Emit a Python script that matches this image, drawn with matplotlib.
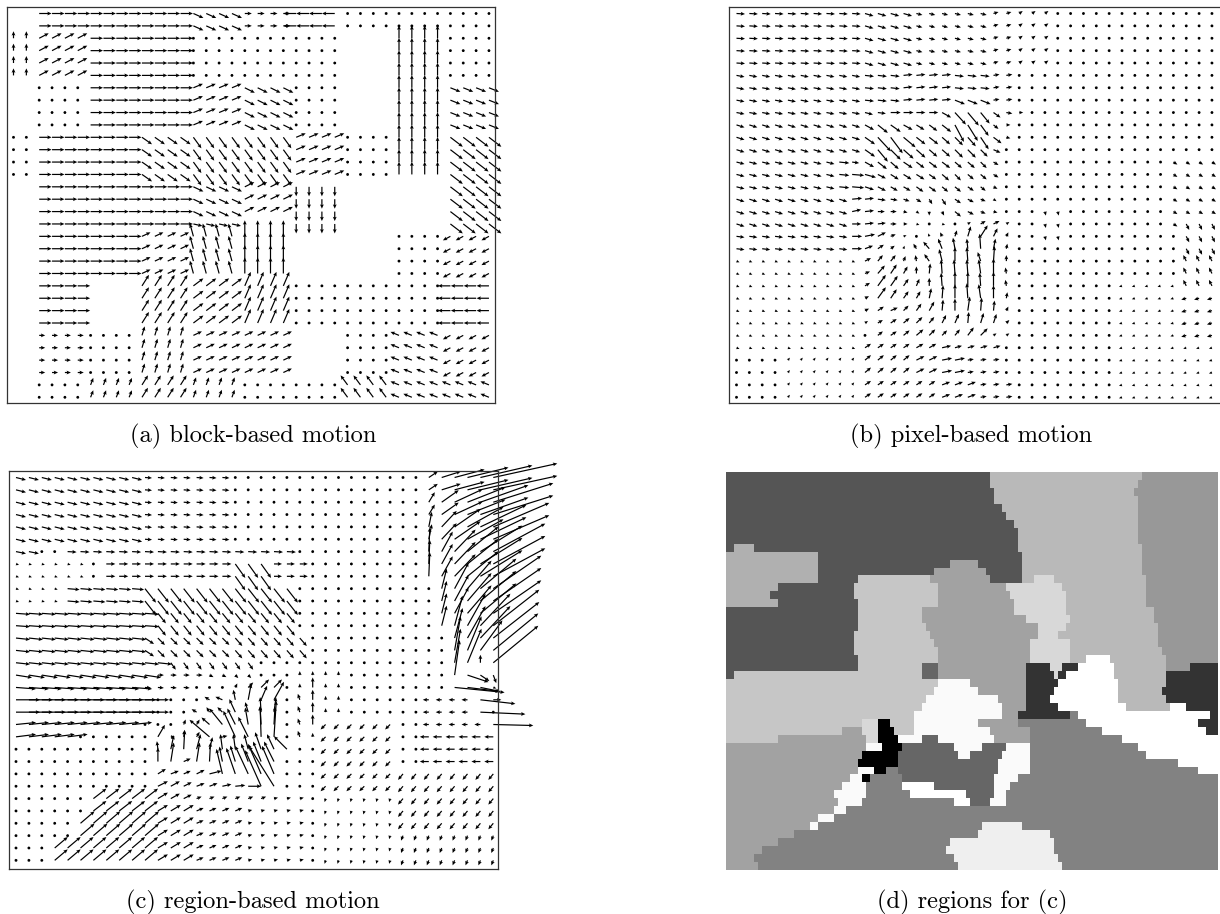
import numpy as np
import matplotlib
matplotlib.use("Agg")
import matplotlib.pyplot as plt
from matplotlib.colors import ListedColormap

NCOL, NROW = 38, 32
captions = ["(a) block-based motion", "(b) pixel-based motion", "(c) region-based motion", "(d) regions for (c)"]

# every patch: first col, last col, first row, last row, u, v (pixels; later patches overwrite)
block_motion = [
 (2,13,0,1,12.4,0),(14,17,0,1,10,4.5),(18,21,0,1,7,0),(22,25,0,1,-12.8,0),(26,33,0,1,0,-2.5),(34,37,0,1,2.5,0),
 (0,1,2,5,0,-7),(2,5,2,5,9.5,-5),(6,13,2,5,12.4,0),(14,21,2,5,2.5,0),(22,25,2,5,0,-2.5),(30,33,2,13,0,-12.8),(34,37,2,5,2.5,0),
 (2,5,6,9,2.5,0),(6,13,6,9,12.4,0),(14,17,6,9,9.5,-4),(18,21,6,9,10,5),(22,25,6,9,2.5,0),(34,37,6,9,10,4),
 (0,1,10,13,3,0),(2,9,10,13,12.4,0),(10,13,10,13,10,7),(14,21,10,13,8,11),(22,25,10,13,9.5,-4),(26,29,10,13,0,-2.5),(34,37,10,13,12.4,9.5),
 (2,13,14,17,12.4,0),(14,17,14,16,10,4.7),(18,21,14,16,9.5,-4.7),(14,17,17,17,9,2),(22,25,14,17,0,9.5),(34,37,14,17,12.4,9.5),
 (2,9,18,21,12.4,0),(10,13,18,21,8.5,-4),(14,17,18,21,-3.5,-12.8),(18,21,18,21,0,-16),(30,33,18,21,0,2.5),(34,37,18,21,-7.5,4),
 (2,5,22,25,12.4,0),(10,13,22,25,7,-11),(14,17,22,25,10,-7.5),(18,21,22,25,6,-14),(22,25,22,25,0,-2.5),(26,33,22,25,-2.5,0),(34,37,22,25,-12.4,0),
 (2,5,26,29,6,0),(6,9,26,29,2.5,0),(10,13,26,29,2.7,-9),(14,21,26,29,8.5,-4),(26,29,26,29,0,-2.5),(30,33,26,29,-8.5,-3.5),(34,37,26,29,-7.5,4),
 (2,5,30,31,2.5,0),(6,9,30,31,2.7,-7),(10,13,30,31,6,-9.5),(14,17,30,31,2.7,-7.5),(18,25,30,31,2.5,0),(26,29,30,31,-7,-9.5),(30,37,30,31,-8.5,-3.5),
]

pixel_motion = [
 (0,37,0,31,2.6,1.0),
 (0,9,0,4,8.5,0.5),(10,13,0,4,8.5,2.5),(14,19,0,4,6,1.5),(20,21,0,4,5,-1.5),(22,24,0,4,3.5,-2.5),(25,26,0,4,2.5,-1),
 (0,9,5,8,8,1.5),(10,12,5,7,9,1),(13,16,5,7,9,-1),(17,20,5,6,9,1),(17,19,7,7,10,4),(20,22,5,7,6,-1),
 (0,9,9,11,8,2.5),(0,7,12,14,8,2),(8,8,12,14,10,1),(0,8,15,17,8,2.5),(0,8,18,19,8,1),
 (0,9,20,27,3,1.2),(4,9,28,31,2,-2.5),(0,3,28,31,2.5,0.5),
 (24,25,15,18,1,4),(22,37,5,15,2.6,0.5),(34,37,12,17,4,2.5),
 (22,29,22,31,2.6,-0.5),(30,37,22,31,-3,1),(35,37,22,26,-5,1.5),(35,37,17,19,3,6),(35,37,20,22,-3,-6),
 (10,13,27,27,6,-4),(14,15,27,27,7,-4),(16,16,27,27,9,-2),(17,20,27,27,7,-2),
 (10,13,28,29,6,-5),(14,15,28,29,8,-4),(16,17,28,29,10,-2),(18,20,28,29,6,-1),
 (10,15,30,31,6,-4),(16,18,30,31,8,-3),(19,21,30,31,6,-1),
]

# row -> first col, then (u, v) of each vector read one by one
pixel_core = {
 8:(10,[(8,2),(8,1),(10,0),(10,0),(9,0),(9,0),(9,5),(11,12),(11,13),(9,11),(7,5),(6,1),(4,0),(3,0)]),
 9:(10,[(9,5),(10,8),(10,7),(9,5),(8,5),(8,6),(9,7),(9,17),(10,16),(8,11),(5,4),(4,0)]),
 10:(10,[(10,7),(13,14),(12,16),(12,10),(9,7),(9,7),(8,7),(8,8),(8,9),(8,12),(8,6),(4,1)]),
 11:(10,[(10,7),(10,12),(10,10),(10,9),(9,8),(8,7),(8,7),(8,8),(8,8),(7,7),(7,3),(3,0)]),
 12:(9,[(7,1),(9,5),(9,7),(8,7),(9,6),(8,6),(8,6),(8,6),(7,6),(7,6),(6,6),(5,3),(3,0)]),
 13:(9,[(12,1),(11,3),(8,4),(8,5),(8,5),(8,5),(7,5),(7,6),(6,6),(6,5),(6,5),(5,3)]),
 14:(9,[(12,1),(9,3),(8,4),(7,4),(7,4),(7,5),(7,5),(6,5),(6,5),(6,4),(5,4),(4,2)]),
 15:(9,[(10,-1),(9,-1),(8,1),(7,1),(6,2),(5,3),(3,5),(4,6),(6,4),(6,3),(5,2),(3,2)]),
 16:(9,[(9,-2),(9,-1),(7,0),(6,0),(4,1),(3,2),(0,4),(2,4),(6,5),(6,3),(5,2),(4,1)]),
 17:(9,[(9,0),(9,-1),(8,-1),(6,0),(4,0),(3,1),(2,0),(3,1),(3,0),(3,-2),(5,-3),(6,-3),(3,-2)]),
 18:(9,[(10,0),(10,-2),(8,-4),(5,-2),(3,-1),(2,-1),(-1,-3),(-2,-4),(2,-6),(3,-10),(7,-11),(4,-8),(2,-4)]),
 19:(9,[(10,0),(8,-3),(6,-4),(4,-3),(1,-3),(-3,-5),(-6,-7),(-4,-10),(-2,-11),(-1,-10),(-1,-15),(2,-10),(1,-5)]),
 20:(10,[(6,-3),(5,-6),(5,-6),(2,-5),(-1,-6),(-5,-7),(-3,-12),(0,-14),(-1,-14),(-3,-9),(1,-15),(0,-6)]),
 21:(10,[(5,-2),(7,-8),(6,-9),(4,-7),(0,-7),(1,-10),(-1,-14),(-1,-14),(-1,-14),(-2,-14),(0,-15),(-1,-6)]),
 22:(10,[(5,-3),(8,-11),(7,-10),(5,-7),(3,-7),(0,-8),(-1,-13),(0,-14),(0,-14),(-1,-13),(0,-14),(-1,-6)]),
 23:(10,[(4,-2),(8,-11),(6,-9),(5,-7),(4,-7),(2,-10),(1,-13),(0,-14),(-1,-15),(-2,-14),(0,-13),(1,-6)]),
 24:(10,[(4,-2),(6,-4),(7,-3),(5,-5),(5,-7),(5,-9),(1,-11),(0,-12),(2,-14),(1,-13),(1,-10),(2,-4)]),
 25:(10,[(3,-2),(5,-3),(6,-4),(6,-5),(6,-6),(5,-6),(4,-8),(4,-9),(1,-11),(3,-10),(3,-9),(3,-3)]),
 26:(10,[(2,-2),(5,-4),(6,-4),(6,-5),(7,-6),(6,-6),(5,-5),(5,-6),(6,-8),(7,-7),(3,-2),(3,-2)]),
}

region_motion = [
 (0,37,0,31,2.6,1),
 (0,9,0,5,10,2.5),(10,16,0,5,7,0.5),(17,20,0,5,3,0),(21,31,0,5,0.5,-2.6),
 (0,1,6,6,10,2),(2,3,6,6,1,-2.6),(4,21,6,6,9,0.5),(0,5,7,8,3,1),(7,16,7,8,9,0),(17,19,7,8,10,14),(20,22,7,8,8,0),
 (0,3,9,10,3,1),(4,9,9,10,12,1),(10,21,9,10,11,14),
 (0,10,11,12,14,1),(11,21,11,12,8,10),(0,9,13,14,14,1.5),(10,10,13,14,9,6),(11,16,13,14,7,7),(17,22,13,14,7,8),
 (0,11,15,15,14,1.5),(12,18,15,15,5,7),(0,10,16,16,16,2.5),(0,10,17,17,20,1.5),(0,10,18,18,24,0),(0,10,19,19,24,0),
 (0,9,20,20,20,-2),(0,4,21,21,20,-2.5),
 (6,10,26,27,13,-10),(5,10,28,29,14,-12),(3,10,30,31,13,-11),(11,13,27,31,10,-6),(14,17,27,31,7,-3),(18,22,26,31,4,-1),
 (22,25,16,21,0,-4),(22,22,18,21,-2,-6),(23,23,17,20,0,-10),
 (24,29,20,25,-5,5),(24,29,26,31,-1,3.5),(30,37,24,28,-5,6),(30,37,29,31,-2,5),
 (32,37,21,23,-9,0),(32,37,18,20,-6,0),
 (32,32,0,1,9,-6),(33,33,0,1,19,-6),(34,34,0,1,30,-8),(35,35,0,1,41,-10),(36,36,0,1,52,-12),(37,37,0,1,64,-14),
 (32,32,2,3,6,-10),(33,33,2,3,17,-12),(34,34,2,3,28,-13),(35,35,2,3,38,-15),(36,36,2,3,48,-17),(37,37,2,3,60,-19),
 (32,32,4,5,3,-15),(33,33,4,5,15,-16),(34,34,4,5,26,-18),(35,35,4,5,36,-20),(36,36,4,5,46,-22),(37,37,4,5,56,-24),
 (32,32,6,8,1,-24),(33,33,6,8,11,-20),(34,34,6,8,21,-22),(35,35,6,8,31,-25),(36,36,6,8,42,-26),(37,37,6,8,52,-28),
 (33,33,9,12,5,-20),(34,34,9,11,14,-26),(35,35,9,11,24,-28),(36,36,9,11,36,-30),(37,37,9,11,48,-33),
 (34,34,12,13,8,-30),(35,35,12,13,18,-32),(36,36,12,13,30,-32),(37,37,12,13,46,-36),
 (34,34,14,15,6,-34),(35,35,14,15,14,-34),(36,36,14,14,22,-30),(37,37,14,15,45,-37),(36,36,15,15,0,-8),
 (34,34,16,16,5,-35),(35,35,16,16,21,7),(36,36,16,16,9,6),(37,37,16,16,3,8),
 (34,34,17,17,50,5),(35,35,17,17,32,4),(36,36,17,17,20,4),(37,37,17,17,3,1),
 (36,36,18,18,35,4),(37,37,18,18,8,0),(36,36,19,19,45,2),(37,37,19,19,3,0),(37,37,20,20,40,1),
]

region_core = {
 16:(11,[(6,0),(6,0),(6,0),(6,0),(4,2),(4,2),(3,3),(3,3)]),
 17:(10,[(6,0.5),(6,0.5),(6,0.5),(6,0.5),(3,0),(3,0),(3,0),(2,-4),(5,-5),(8,-8),(8,-8)]),
 18:(14,[(-3,0),(-5,-3),(-7,-3),(-2,-10),(3,-16),(6,-14),(10,-18)]),
 19:(14,[(-5,-3),(-3,-5),(-5,-5),(-6,-13),(-3,-10),(-1,-15),(2,-15)]),
 20:(13,[(2,-5),(3,-5),(-8,-7),(-13,-16),(-8,-16),(-3,-17),(-1,-18),(1,-18)]),
 21:(10,[(-2,-1),(7,-12),(4,0),(1,-7),(3,-5),(-20,-17),(5,-1),(-12,-26),(-10,-20),(-1,-31),(2.3,-36)]),
 22:(11,[(-1,-8),(3,-14),(1,-19),(4,-15),(3,-12),(-2,-15),(-2,-15),(-4,-15),(-6,-17),(-7,-15),(-13,-13)]),
 23:(11,[(0,-14),(3,-19),(7,-3),(3,-19),(1,-19),(-3,-15),(-5,-16),(-7,-18),(-8,-20),(-10,-20)]),
 24:(11,[(8,-5),(8,-3),(7,-3),(8,-4),(12,-3),(-6,-25),(-9,-26),(-13,-28),(-13,-30),(-12,-28)]),
 25:(11,[(10,-5),(9,-5),(8,-4),(8,-3),(8,-3),(9,-2),(10,-1),(13,0),(-16,-36),(-25,-40)]),
 26:(11,[(10,-6),(9,-5),(8,-4),(5,-2),(5,-2),(5,-2),(5,-2),(5,-2),(5,-2)]),
}

# each row of the label map: (right edge of a span in 1/3 px, region letter)
region_rows = [
 [(805,'a'),(1265,'b'),(1500,'c')],[(810,'a'),(1250,'b'),(1500,'c')],[(820,'a'),(1240,'b'),(1500,'c')],
 [(825,'a'),(1255,'b'),(1500,'c')],[(845,'a'),(1250,'b'),(1500,'c')],[(860,'a'),(1250,'b'),(1500,'c')],
 [(880,'a'),(1255,'b'),(1500,'c')],[(895,'a'),(1260,'b'),(1500,'c')],[(895,'a'),(1260,'b'),(1500,'c')],
 [(40,'a'),(100,'d'),(895,'a'),(1262,'b'),(1500,'c')],
 [(300,'d'),(905,'a'),(1265,'b'),(1500,'c')],
 [(295,'d'),(690,'a'),(775,'f'),(905,'a'),(1270,'b'),(1500,'c')],
 [(295,'d'),(645,'a'),(800,'f'),(910,'a'),(1270,'b'),(1500,'c')],
 [(300,'d'),(415,'a'),(635,'e'),(815,'f'),(910,'a'),(945,'b'),(1000,'g'),(1275,'b'),(1500,'c')],
 [(170,'d'),(405,'a'),(650,'e'),(860,'f'),(1030,'g'),(1280,'b'),(1500,'c')],
 [(155,'d'),(400,'a'),(660,'e'),(865,'f'),(1035,'g'),(1280,'b'),(1500,'c')],
 [(170,'d'),(410,'a'),(650,'e'),(880,'f'),(1035,'g'),(1280,'b'),(1500,'c')],
 [(420,'a'),(605,'e'),(885,'f'),(1040,'g'),(1300,'b'),(1500,'c')],
 [(420,'a'),(605,'e'),(920,'f'),(1045,'g'),(1305,'b'),(1500,'c')],
 [(415,'a'),(620,'e'),(950,'f'),(1040,'g'),(1310,'b'),(1500,'c')],
 [(400,'a'),(635,'e'),(955,'f'),(1015,'g'),(1315,'b'),(1500,'c')],
 [(400,'a'),(640,'e'),(935,'f'),(1045,'g'),(1320,'b'),(1500,'c')],
 [(405,'a'),(655,'e'),(935,'f'),(1050,'g'),(1330,'b'),(1500,'c')],
 [(410,'a'),(655,'e'),(925,'f'),(1050,'g'),(1100,'b'),(1170,'i'),(1335,'b'),(1500,'c')],
 [(415,'a'),(605,'e'),(660,'l'),(920,'f'),(985,'h'),(1030,'g'),(1070,'h'),(1180,'i'),(1335,'b'),(1410,'c'),(1500,'h')],
 [(45,'a'),(605,'e'),(660,'l'),(920,'f'),(1000,'h'),(1020,'g'),(1040,'h'),(1185,'i'),(1340,'b'),(1500,'h')],
 [(660,'e'),(750,'j'),(920,'f'),(1020,'h'),(1190,'i'),(1335,'b'),(1500,'h')],
 [(640,'e'),(780,'j'),(920,'f'),(1000,'h'),(1190,'i'),(1330,'b'),(1500,'h')],
 [(615,'e'),(830,'j'),(920,'f'),(995,'h'),(1200,'i'),(1340,'b'),(1500,'h')],
 [(610,'e'),(850,'j'),(920,'f'),(1010,'h'),(1215,'i'),(1345,'b'),(1395,'i'),(1500,'h')],
 [(585,'e'),(850,'j'),(900,'f'),(1050,'h'),(1075,'k'),(1470,'i'),(1500,'h')],
 [(430,'e'),(480,'g'),(510,'m'),(580,'e'),(780,'j'),(900,'f'),(1100,'k'),(1430,'i'),(1500,'h')],
 [(370,'e'),(430,'f'),(480,'g'),(520,'m'),(580,'e'),(810,'j'),(925,'f'),(1150,'k'),(1460,'i'),(1500,'h')],
 [(180,'e'),(435,'f'),(480,'g'),(530,'m'),(610,'j'),(650,'l'),(820,'j'),(925,'f'),(1210,'k'),(1500,'i')],
 [(440,'f'),(485,'j'),(545,'m'),(700,'l'),(790,'j'),(860,'l'),(925,'j'),(1260,'k'),(1500,'i')],
 [(425,'f'),(540,'m'),(715,'l'),(745,'j'),(850,'l'),(925,'j'),(1280,'k'),(1500,'i')],
 [(410,'f'),(535,'m'),(840,'l'),(925,'j'),(1380,'k'),(1500,'i')],
 [(410,'f'),(460,'j'),(500,'m'),(535,'k'),(830,'l'),(925,'j'),(1440,'k'),(1500,'i')],
 [(395,'f'),(425,'j'),(455,'m'),(545,'k'),(825,'l'),(900,'j'),(1500,'k')],
 [(365,'f'),(440,'j'),(545,'k'),(640,'i'),(820,'l'),(870,'j'),(1500,'k')],
 [(345,'f'),(440,'j'),(570,'k'),(740,'i'),(820,'l'),(855,'j'),(1500,'k')],
 [(360,'f'),(430,'j'),(700,'k'),(750,'i'),(815,'l'),(855,'j'),(1500,'k')],
 [(340,'f'),(380,'j'),(1500,'k')],[(300,'f'),(340,'j'),(1500,'k')],
 [(270,'f'),(295,'j'),(790,'k'),(910,'n'),(1500,'k')],
 [(220,'f'),(770,'k'),(990,'n'),(1500,'k')],
 [(170,'f'),(690,'k'),(1000,'n'),(1500,'k')],
 [(130,'f'),(680,'k'),(1005,'n'),(1500,'k')],
 [(105,'f'),(700,'k'),(1015,'n'),(1500,'k')],
 [(115,'f'),(710,'k'),(1025,'n'),(1500,'k')],
]
region_grays = {'a':0x55,'b':0xb9,'c':0x98,'d':0xb0,'e':0xc6,'f':0xa2,'g':0xd8,'h':0x33,
                'i':0xff,'j':0xfa,'k':0x82,'l':0x66,'m':0x00,'n':0xef}


def build_field(patches, core=None):
    u = np.full((NROW, NCOL), np.nan)
    v = np.full((NROW, NCOL), np.nan)
    for c0, c1, r0, r1, du, dv in patches:
        u[r0:r1 + 1, c0:c1 + 1] = du
        v[r0:r1 + 1, c0:c1 + 1] = dv
    for r, (c0, vals) in (core or {}).items():
        for k, (du, dv) in enumerate(vals):
            u[r, c0 + k] = du
            v[r, c0 + k] = dv
    return u, v


W, H = 1220, 914
fig = plt.figure(figsize=(W / 100, H / 100), dpi=100, facecolor="white")


def panel(left, top, right, bottom, frame=True):
    ax = fig.add_axes([left / W, 1 - bottom / H, (right - left) / W, (bottom - top) / H])
    ax.set_xlim(left, right)
    ax.set_ylim(bottom, top)
    ax.set_xticks([])
    ax.set_yticks([])
    for s in ax.spines.values():
        s.set_linewidth(0.9)
        s.set_color("#333333")
        s.set_visible(frame)
    ax.patch.set_alpha(0)
    return ax


def draw_field(ax, patches, x0, y0, dx=12.85, dy=12.38, core=None):
    u, v = build_field(patches, core)
    xx, yy = np.meshgrid(x0 + dx * np.arange(NCOL), y0 + dy * np.arange(NROW))
    ok = ~np.isnan(u)
    q = ax.quiver(xx[ok], yy[ok], u[ok], v[ok], angles="xy", scale_units="xy", scale=1,
                  units="dots", width=1.2, headwidth=3.2, headlength=3.6, headaxislength=3.1,
                  minshaft=1, minlength=2.6, color="black", pivot="tail")
    q.set_clip_on(False)


ax_a = panel(6.5, 7, 495, 403)
draw_field(ax_a, block_motion, 13.5, 13.5)

ax_b = panel(728.5, 7, 1220, 403)
ax_b.spines["right"].set_visible(False)
draw_field(ax_b, pixel_motion, 736.5, 13.5, core=pixel_core)

ax_c = panel(8.5, 471, 498, 869)
draw_field(ax_c, region_motion, 16, 477.5, dx=12.9, dy=12.35, core=region_core)

ax_d = panel(726, 472, 1218, 870, frame=False)
letters = sorted(region_grays)
grid = np.zeros((len(region_rows), 123), dtype=int)
edges = 18 + 12 * np.arange(123) + 6
for r, spans in enumerate(region_rows):
    start = 0
    for end, name in spans:
        grid[r, (edges >= start) & (edges < end)] = letters.index(name)
        start = end
cmap = ListedColormap([str(region_grays[k] / 255) for k in letters])
ax_d.imshow(grid, cmap=cmap, vmin=0, vmax=len(letters) - 1, aspect="auto", interpolation="nearest",
            extent=(726, 1218, 870, 472))

cx = [253, 971, 253, 972]
cy = [436.5, 436.5, 902.5, 902.5]
for text, x, y in zip(captions, cx, cy):
    fig.text(x / W, 1 - y / H, text, family="cmr10", fontsize=17.6, ha="center", va="center", color="black")

fig.savefig("out.png", dpi=100)
